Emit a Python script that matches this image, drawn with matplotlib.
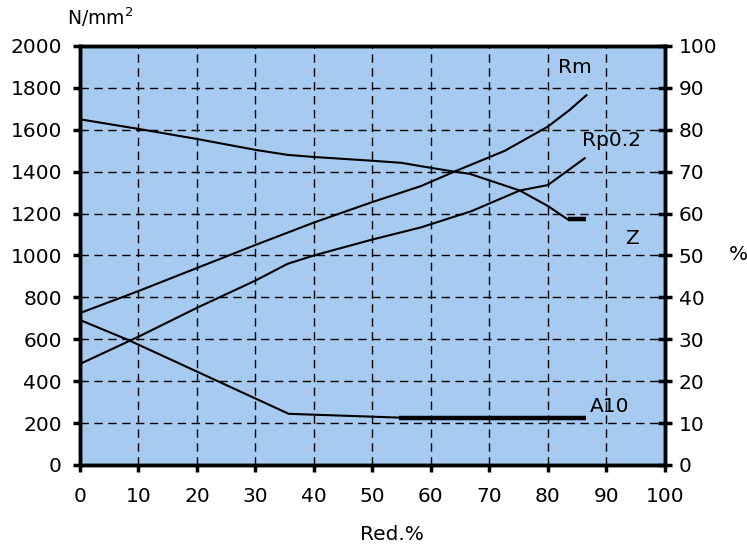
import matplotlib.pyplot as plt

plt.rcParams['font.family'] = ['DejaVu Sans']

# strength curves, N/mm2 over reduction %
rm_red = [0, 10, 20, 30, 40, 50, 58.3, 64, 72.6, 80, 83.7, 86.6]
rm_val = [725, 830, 940, 1050, 1157, 1255, 1331, 1400, 1499, 1615, 1694, 1765]

rp_red = [0, 10, 20, 30, 35.5, 40, 50, 58.3, 66.9, 75.2, 80, 86.3]
rp_val = [482, 612, 750, 880, 960, 1000, 1076, 1134, 1211, 1310, 1336, 1464]

# ductility curves, % over reduction %
z_red = [0, 10, 20, 30, 35.5, 40, 50, 55, 58.3, 64, 66.6, 75.2, 80, 83.4]
z_val = [82.5, 80.2, 77.8, 75.2, 74.0, 73.5, 72.6, 72.1, 71.3, 70.0, 69.5, 65.5, 61.8, 58.6]
z_flat_red = [83.4, 86.5]
z_flat_val = [58.6, 58.6]

a_red = [0, 8.3, 35.7, 54.6]
a_val = [34.6, 29.8, 12.2, 11.3]
a_flat_red = [54.6, 86.6]
a_flat_val = [11.3, 11.3]

x_ticks = list(range(0, 101, 10))
left_ticks = list(range(0, 2001, 200))
right_ticks = list(range(0, 101, 10))

fig = plt.figure(figsize=(7.47, 5.47), dpi=100)
ax = fig.add_axes([0.107, 0.150, 0.783, 0.766])
ax.set_facecolor('#A6CAF0')
ax2 = ax.twinx()

ax.plot(rm_red, rm_val, color='black', lw=1.5)
ax.plot(rp_red, rp_val, color='black', lw=1.5)
ax2.plot(z_red, z_val, color='black', lw=1.5)
ax2.plot(z_flat_red, z_flat_val, color='black', lw=3.2, solid_capstyle='butt')
ax2.plot(a_red, a_val, color='black', lw=1.5)
ax2.plot(a_flat_red, a_flat_val, color='black', lw=3.2, solid_capstyle='butt')

ax.set_xlim(0, 100)
ax.set_ylim(0, 2000)
ax2.set_ylim(0, 100)
ax.set_xticks(x_ticks)
ax.set_yticks(left_ticks)
ax2.set_yticks(right_ticks)

ax.grid(True, color='black', linestyle=(0, (6, 4)), linewidth=1.0)

for a in (ax, ax2):
    for s in a.spines.values():
        s.set_linewidth(2.5)
ax.tick_params(axis='x', labelsize=14.5, direction='out', length=5, width=2.5, pad=11)
ax.tick_params(axis='y', labelsize=14.5, direction='out', length=5, width=2.5, pad=8)
ax2.tick_params(axis='y', labelsize=14.5, direction='inout', length=10, width=2.5, pad=5)

ax.text(84.6, 1895, 'Rm', fontsize=14.5, ha='center', va='center')
ax.text(90.8, 1551, 'Rp0.2', fontsize=14.5, ha='center', va='center')
ax.text(94.4, 1083, 'Z', fontsize=14.5, ha='center', va='center')
ax.text(90.6, 277, 'A10', fontsize=14.5, ha='center', va='center', zorder=1)

fig.text(0.134, 0.969, 'N/mm$^2$', fontsize=13.5, ha='center', va='center')
fig.text(0.525, 0.022, 'Red.%', fontsize=14.5, ha='center', va='center')
fig.text(0.988, 0.534, '%', fontsize=14.5, ha='center', va='center')

fig.savefig('out.png', dpi=100)
